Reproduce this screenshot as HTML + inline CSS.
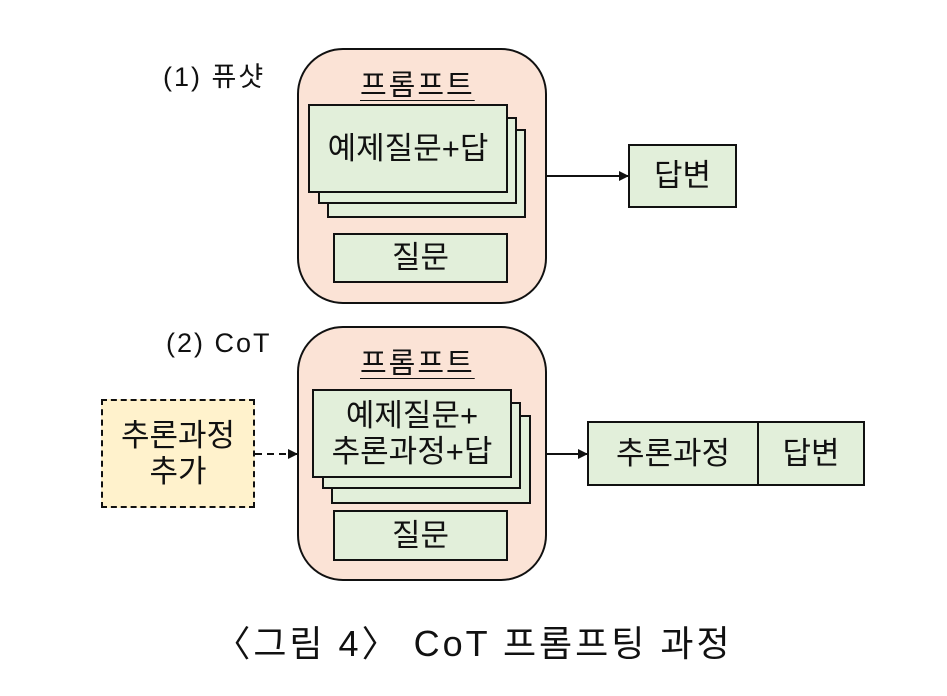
<!DOCTYPE html>
<html><head><meta charset="utf-8"><style>
body{margin:0;width:947px;height:696px;background:#fff;position:relative;overflow:hidden;font-family:"Liberation Sans","Noto Sans CJK KR",sans-serif;color:#111}
.a{position:absolute;box-sizing:border-box}
.big{background:#fbe3d6;border:2px solid #111;border-radius:46px}
.g{background:#e2efda;border:2px solid #111;display:flex;align-items:center;justify-content:center;text-align:center;font-size:31px;line-height:36px}
.t{position:absolute;font-size:27px;white-space:nowrap}
.ul{text-decoration:underline;text-underline-offset:5px;text-decoration-thickness:1px}
</style></head><body>
<div class="t" style="left:163px;top:55px;letter-spacing:2px">(1) 퓨샷</div>
<div class="a big" style="left:297px;top:48px;width:250px;height:256px"></div>
<div class="t ul" style="left:360px;top:62px;font-size:29px;letter-spacing:2px">프롬프트</div>
<div class="a g" style="left:327px;top:129px;width:199px;height:89px"></div>
<div class="a g" style="left:318px;top:117px;width:199px;height:87px"></div>
<div class="a g" style="left:308px;top:104px;width:200px;height:89px">예제질문+답</div>
<div class="a g" style="left:333px;top:233px;width:175px;height:50px">질문</div>
<div class="a g" style="left:628px;top:144px;width:109px;height:64px">답변</div>

<div class="t" style="left:166px;top:328px;letter-spacing:2px">(2) CoT</div>
<div class="a big" style="left:297px;top:326px;width:250px;height:255px"></div>
<div class="t ul" style="left:360px;top:340px;font-size:29px;letter-spacing:2px">프롬프트</div>
<div class="a g" style="left:331px;top:415px;width:200px;height:89px"></div>
<div class="a g" style="left:322px;top:402px;width:199px;height:87px"></div>
<div class="a g" style="left:312px;top:389px;width:200px;height:89px">예제질문+<br>추론과정+답</div>
<div class="a g" style="left:333px;top:510px;width:175px;height:51px">질문</div>
<div class="a g" style="left:101px;top:399px;width:154px;height:109px;background:#fff2cc;border:2px dashed #111">추론과정<br>추가</div>
<div class="a g" style="left:587px;top:421px;width:172px;height:65px">추론과정</div>
<div class="a g" style="left:757px;top:421px;width:108px;height:65px">답변</div>

<svg class="a" style="left:0;top:0" width="947" height="696">
<defs><marker id="m" markerWidth="10" markerHeight="10" refX="9" refY="5" orient="auto" markerUnits="userSpaceOnUse"><path d="M0,0L10,5L0,10z" fill="#111"/></marker></defs>
<line x1="547" y1="176" x2="628" y2="176" stroke="#111" stroke-width="2" marker-end="url(#m)"/>
<line x1="255" y1="454" x2="297" y2="454" stroke="#111" stroke-width="2" stroke-dasharray="7,5" marker-end="url(#m)"/>
<line x1="547" y1="454" x2="587" y2="454" stroke="#111" stroke-width="2" marker-end="url(#m)"/>
</svg>
<div class="t" style="left:0;width:947px;text-align:center;top:615px;font-size:36px;letter-spacing:3px">〈그림 4〉 CoT 프롬프팅 과정</div>
</body></html>
